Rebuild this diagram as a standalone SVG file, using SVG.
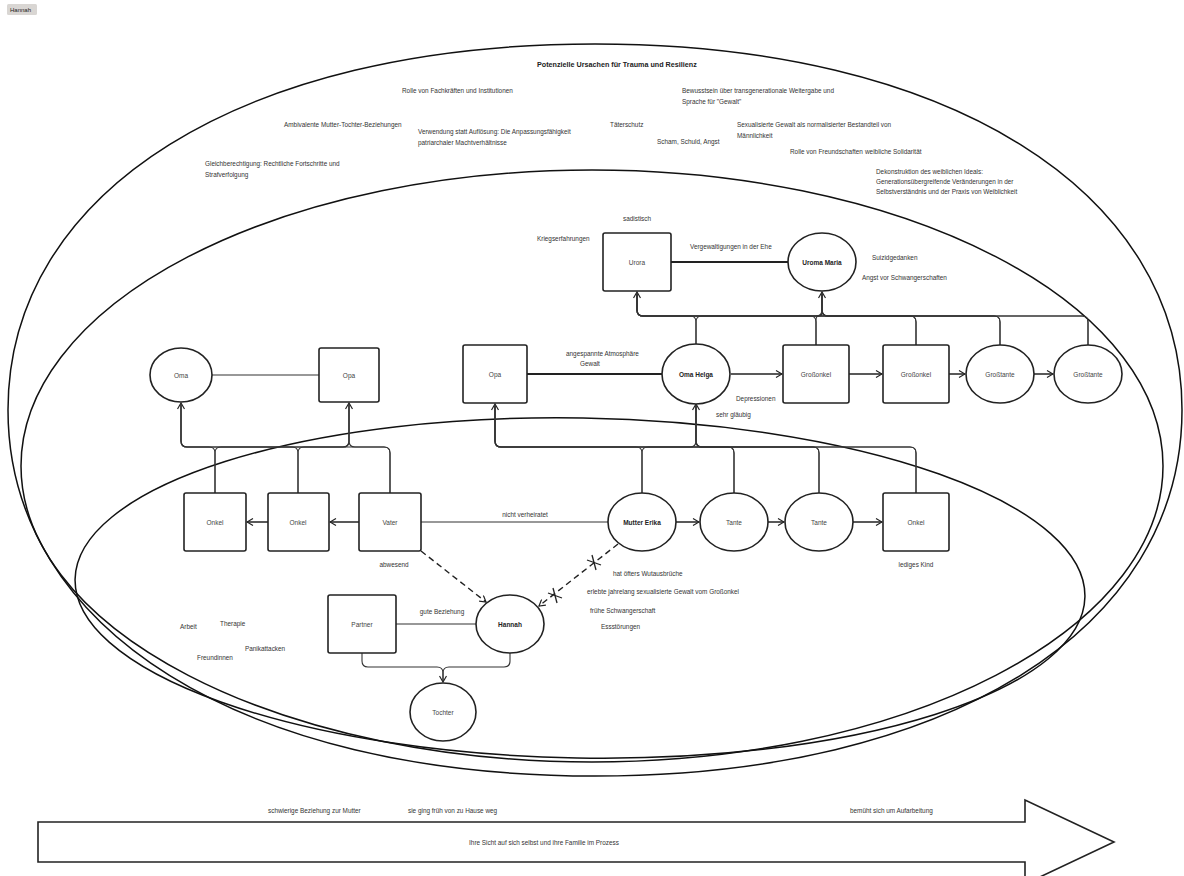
<svg xmlns="http://www.w3.org/2000/svg" width="1184" height="876" viewBox="0 0 1184 876">
<defs>
<marker id="ah" viewBox="0 0 8 8" refX="7" refY="4" markerWidth="8" markerHeight="8" markerUnits="userSpaceOnUse" orient="auto">
<path d="M1,0.5 L7,4 L1,7.5" fill="none" stroke="#222" stroke-width="1.2"/>
</marker>
<style>
.t{font-family:"Liberation Sans",Arial,sans-serif;font-size:6.4px;fill:#333}
.n{font-family:"Liberation Sans",Arial,sans-serif;font-size:6.5px;fill:#444;text-anchor:middle;dominant-baseline:central}
.nb{font-weight:bold;fill:#222}
.node{fill:#fff;stroke:#222;stroke-width:1.6}
.ell{fill:none;stroke:#111;stroke-width:1.5}
.c{fill:none;stroke:#333;stroke-width:1.1}
.a{fill:none;stroke:#222;stroke-width:1.5;marker-end:url(#ah)}
.d{fill:none;stroke:#222;stroke-width:1.4;stroke-dasharray:6 4;marker-end:url(#ah)}
</style>
</defs>
<rect width="1184" height="876" fill="#fff"/>
<g id="tag"><rect x="7" y="4" width="30" height="11" rx="1.5" fill="#d9d6d3"/><text class="t" x="10" y="12" style="font-size:6px;fill:#222">Hannah</text></g>

<g id="circles">
<path class="ell" d="M1182 410 C1182 629.6 947.2 776 595 776 C242.8 776 8 629.6 8 410 C8 190.4 242.8 44 595 44 C947.2 44 1182 190.4 1182 410 Z"/>
<ellipse class="ell" cx="592" cy="466" rx="571" ry="296"/>
<ellipse class="ell" cx="580" cy="588" rx="505" ry="170" transform="rotate(1 580 588)"/>
</g>

<g id="context-texts">
<text class="t" x="537" y="67" style="font-weight:bold;font-size:7.2px;fill:#222">Potenzielle Ursachen für Trauma und Resilienz</text>
<text class="t" x="402" y="93">Rolle von Fachkräften und Institutionen</text>
<text class="t" x="682" y="93">Bewusstsein über transgenerationale Weitergabe und</text>
<text class="t" x="682" y="104">Sprache für "Gewalt"</text>
<text class="t" x="284" y="127">Ambivalente Mutter-Tochter-Beziehungen</text>
<text class="t" x="610" y="127">Täterschutz</text>
<text class="t" x="737" y="127">Sexualisierte Gewalt als normalisierter Bestandteil von</text>
<text class="t" x="737" y="138">Männlichkeit</text>
<text class="t" x="418" y="134">Verwendung statt Auflösung: Die Anpassungsfähigkeit</text>
<text class="t" x="418" y="145">patriarchaler Machtverhältnisse</text>
<text class="t" x="657" y="144">Scham, Schuld, Angst</text>
<text class="t" x="790" y="154">Rolle von Freundschaften</text>
<text class="t" x="865" y="154">weibliche Solidarität</text>
<text class="t" x="205" y="166">Gleichberechtigung: Rechtliche Fortschritte und</text>
<text class="t" x="205" y="177">Strafverfolgung</text>
<text class="t" x="876" y="174">Dekonstruktion des weiblichen Ideals:</text>
<text class="t" x="876" y="184">Generationsübergreifende Veränderungen in der</text>
<text class="t" x="876" y="194">Selbstverständnis und der Praxis von Weiblichkeit</text>
</g>

<g id="connectors">
<line x1="671" y1="262" x2="788" y2="262" stroke="#222" stroke-width="2"/>
<line x1="212" y1="375" x2="319" y2="375" stroke="#333" stroke-width="1.1"/>
<line x1="527" y1="374" x2="662" y2="374" stroke="#222" stroke-width="2"/>
<line x1="421" y1="522" x2="608" y2="522" stroke="#333" stroke-width="1.1"/>
<line x1="396" y1="624" x2="476" y2="624" stroke="#333" stroke-width="1.1"/>
<path class="c" d="M696 345 V322 Q696 316 690 316 H643 Q637 316 637 310 V292" marker-end="url(#ah)"/>
<path class="c" d="M696 345 V322 Q696 316 702 316 H816 Q822 316 822 310 V292" marker-end="url(#ah)"/>
<path class="c" d="M816 345 V322 Q816 316 810 316 H643 Q637 316 637 310 V292"/>
<path class="c" d="M816 345 V320 Q816 316 819 316 Q822 316 822 313 V292"/>
<path class="c" d="M916 345 V322 Q916 316 910 316 H643 Q637 316 637 310 V292"/>
<path class="c" d="M916 345 V322 Q916 316 910 316 H828 Q822 316 822 310 V292"/>
<path class="c" d="M1000 345 V322 Q1000 316 994 316 H643 Q637 316 637 310 V292"/>
<path class="c" d="M1000 345 V322 Q1000 316 994 316 H828 Q822 316 822 310 V292"/>
<path class="c" d="M1088 345 V322 Q1088 316 1082 316 H643 Q637 316 637 310 V292"/>
<path class="c" d="M1088 345 V322 Q1088 316 1082 316 H828 Q822 316 822 310 V292"/>
<path class="c" d="M215 493 V453 Q215 447 209 447 H187 Q181 447 181 441 V403" marker-end="url(#ah)"/>
<path class="c" d="M215 493 V453 Q215 447 221 447 H343 Q349 447 349 441 V403" marker-end="url(#ah)"/>
<path class="c" d="M298 493 V453 Q298 447 292 447 H187 Q181 447 181 441 V403"/>
<path class="c" d="M298 493 V453 Q298 447 304 447 H343 Q349 447 349 441 V403"/>
<path class="c" d="M390 493 V453 Q390 447 384 447 H187 Q181 447 181 441 V403"/>
<path class="c" d="M390 493 V453 Q390 447 384 447 H355 Q349 447 349 441 V403"/>
<path class="c" d="M642 493 V453 Q642 447 636 447 H501 Q495 447 495 441 V404" marker-end="url(#ah)"/>
<path class="c" d="M642 493 V453 Q642 447 648 447 H690 Q696 447 696 441 V404" marker-end="url(#ah)"/>
<path class="c" d="M734 493 V453 Q734 447 728 447 H501 Q495 447 495 441 V404"/>
<path class="c" d="M734 493 V453 Q734 447 728 447 H702 Q696 447 696 441 V404"/>
<path class="c" d="M819 493 V453 Q819 447 813 447 H501 Q495 447 495 441 V404"/>
<path class="c" d="M819 493 V453 Q819 447 813 447 H702 Q696 447 696 441 V404"/>
<path class="c" d="M916 493 V453 Q916 447 910 447 H501 Q495 447 495 441 V404"/>
<path class="c" d="M916 493 V453 Q916 447 910 447 H702 Q696 447 696 441 V404"/>
<path class="c" d="M362 653 V661 Q362 667 368 667 H437 Q443 667 443 673 V682" marker-end="url(#ah)"/>
<path class="c" d="M510 653 V661 Q510 667 504 667 H449 Q443 667 443 673 V682"/>
<line class="a" x1="731" y1="374" x2="782" y2="374"/>
<line class="a" x1="849" y1="374" x2="882" y2="374"/>
<line class="a" x1="949" y1="374" x2="965" y2="374"/>
<line class="a" x1="1034" y1="374" x2="1053" y2="374"/>
<line class="a" x1="359" y1="522" x2="330" y2="522"/>
<line class="a" x1="268" y1="522" x2="247" y2="522"/>
<line class="a" x1="676" y1="522" x2="699" y2="522"/>
<line class="a" x1="768" y1="522" x2="784" y2="522"/>
<line class="a" x1="853" y1="522" x2="882" y2="522"/>
<line class="d" x1="421" y1="551" x2="486" y2="602"/>
<line class="d" x1="618" y1="544" x2="539" y2="606"/>
<g stroke="#222" stroke-width="1.3">
<line x1="592" y1="555" x2="596" y2="570"/><line x1="587" y1="560" x2="601" y2="565"/>
<line x1="553" y1="588" x2="557" y2="603"/><line x1="548" y1="593" x2="562" y2="598"/>
</g>
</g>

<g id="urora"><rect class="node" x="603" y="233" width="68" height="58" rx="2"/><text class="n" x="637" y="262">Urora</text></g>
<g id="uroma-maria"><ellipse class="node" cx="822" cy="262" rx="34" ry="29"/><text class="n nb" x="822" y="262">Uroma Maria</text></g>

<g id="oma"><ellipse class="node" cx="181" cy="375" rx="31" ry="27"/><text class="n" x="181" y="375">Oma</text></g>
<g id="opa"><rect class="node" x="319" y="348" width="60" height="54" rx="2"/><text class="n" x="349" y="375">Opa</text></g>
<g id="opa2"><rect class="node" x="463" y="345" width="64" height="58" rx="2"/><text class="n" x="495" y="374">Opa</text></g>
<g id="oma-helga"><ellipse class="node" cx="696" cy="374" rx="34" ry="30"/><text class="n nb" x="696" y="374">Oma Helga</text></g>
<g id="grossonkel1"><rect class="node" x="783" y="345" width="66" height="58" rx="2"/><text class="n" x="816" y="374">Großonkel</text></g>
<g id="grossonkel2"><rect class="node" x="883" y="345" width="66" height="58" rx="2"/><text class="n" x="916" y="374">Großonkel</text></g>
<g id="grosstante1"><ellipse class="node" cx="1000" cy="374" rx="34" ry="29"/><text class="n" x="1000" y="374">Großtante</text></g>
<g id="grosstante2"><ellipse class="node" cx="1088" cy="374" rx="34" ry="29"/><text class="n" x="1088" y="374">Großtante</text></g>

<g id="onkel1"><rect class="node" x="184" y="493" width="62" height="58" rx="2"/><text class="n" x="215" y="522">Onkel</text></g>
<g id="onkel2"><rect class="node" x="268" y="493" width="61" height="58" rx="2"/><text class="n" x="298" y="522">Onkel</text></g>
<g id="vater"><rect class="node" x="359" y="493" width="62" height="58" rx="2"/><text class="n" x="390" y="522">Vater</text></g>
<g id="mutter-erika"><ellipse class="node" cx="642" cy="522" rx="34" ry="29"/><text class="n nb" x="642" y="522">Mutter Erika</text></g>
<g id="tante1"><ellipse class="node" cx="734" cy="522" rx="34" ry="29"/><text class="n" x="734" y="522">Tante</text></g>
<g id="tante2"><ellipse class="node" cx="819" cy="522" rx="34" ry="29"/><text class="n" x="819" y="522">Tante</text></g>
<g id="onkel3"><rect class="node" x="883" y="493" width="66" height="58" rx="2"/><text class="n" x="916" y="522">Onkel</text></g>

<g id="partner"><rect class="node" x="328" y="595" width="68" height="58" rx="2"/><text class="n" x="362" y="624">Partner</text></g>
<g id="hannah"><ellipse class="node" cx="510" cy="624" rx="34" ry="29"/><text class="n nb" x="510" y="624">Hannah</text></g>
<g id="tochter"><ellipse class="node" cx="443" cy="712" rx="33" ry="29"/><text class="n" x="443" y="712">Tochter</text></g>

<g id="labels">
<text class="t" x="637" y="221" text-anchor="middle">sadistisch</text>
<text class="t" x="537" y="241">Kriegserfahrungen</text>
<text class="t" x="690" y="249">Vergewaltigungen in der Ehe</text>
<text class="t" x="872" y="260">Suizidgedanken</text>
<text class="t" x="862" y="280">Angst vor Schwangerschaften</text>
<text class="t" x="566" y="356">angespannte Atmosphäre</text>
<text class="t" x="580" y="366">Gewalt</text>
<text class="t" x="736" y="401">Depressionen</text>
<text class="t" x="716" y="417">sehr gläubig</text>
<text class="t" x="525" y="517" text-anchor="middle">nicht verheiratet</text>
<text class="t" x="394" y="567" text-anchor="middle">abwesend</text>
<text class="t" x="916" y="567" text-anchor="middle">lediges Kind</text>
<text class="t" x="613" y="576">hat öfters Wutausbrüche</text>
<text class="t" x="587" y="594">erlebte jahrelang sexualisierte Gewalt vom Großonkel</text>
<text class="t" x="590" y="613">frühe Schwangerschaft</text>
<text class="t" x="601" y="629">Essstörungen</text>
<text class="t" x="442" y="614" text-anchor="middle">gute Beziehung</text>
<text class="t" x="180" y="629">Arbeit</text>
<text class="t" x="220" y="626">Therapie</text>
<text class="t" x="245" y="651">Panikattacken</text>
<text class="t" x="197" y="660">Freundinnen</text>
</g>

<g id="timeline">
<polygon points="38,822 1025,822 1025,800 1114,842 1025,884 1025,862 38,862" fill="#fff" stroke="#222" stroke-width="1.6"/>
<text class="t" x="544" y="845" text-anchor="middle">Ihre Sicht auf sich selbst und ihre Familie im Prozess</text>
<text class="t" x="268" y="813">schwierige Beziehung zur Mutter</text>
<text class="t" x="408" y="813">sie ging früh von zu Hause weg</text>
<text class="t" x="850" y="813">bemüht sich um Aufarbeitung</text>
</g>
</svg>
